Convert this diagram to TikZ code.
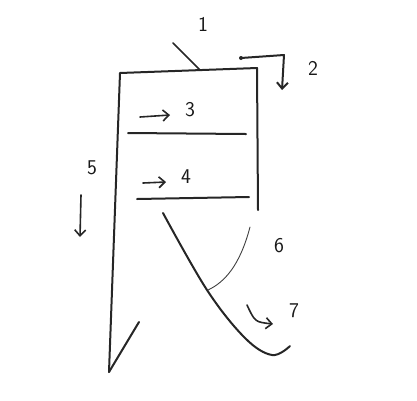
\documentclass[tikz,border=0pt]{standalone}
\usetikzlibrary{arrows.meta}
\tikzset{
  >={Straight Barb[length=6pt,width=11pt]},
  every picture/.style={line cap=round, line join=round},
  pen/.style={black!85, line width=2pt},
  thinpen/.style={black!85, line width=1.6pt},
  finepen/.style={black!75, line width=0.9pt},
  num/.style={font=\sffamily\fontsize{21}{22}\selectfont, text=black!90, inner sep=1pt},
}
\begin{document}
\begin{tikzpicture}[x=1pt, y=-1pt]
\useasboundingbox (0,0) rectangle (417,400);
% ------------------------------------------------------------- frame
\coordinate (tl) at (120,73);
\coordinate (tr) at (257,68);
\coordinate (br) at (258,210);
\coordinate (bl) at (109,372);
\coordinate (tip) at (139,322);
\draw[pen] (bl) -- (tl) -- (tr) -- (br);
\draw[pen] (bl) -- (tip);
\draw[pen] (128,133) -- (246,134);
\draw[pen] (137,199) -- (249,197);
% ------------------------------------------------------------- labels
\node[num] (n1) at (203,24) {1};
\coordinate (l1a) at (173,43);
\coordinate (l1b) at (200,70);
\draw[thinpen] (l1a) -- (l1b);

\coordinate (d2) at (241,58);
\fill[black!85] (d2) circle (2);
\draw[pen, ->] (d2) -- (284,55) -- (282,90);
\node[num] (n2) at (313,68) {2};

\node[num] (n3) at (190,110) {3};
\coordinate (a3) at (140,117);
\draw[thinpen, ->] (a3) -- (170,115);

\node[num] (n4) at (186,177) {4};
\coordinate (a4) at (143,183);
\draw[thinpen, ->] (a4) -- (166,182);

\node[num] (n5) at (92,168) {5};
\coordinate (a5) at (81,195);
\draw[thinpen, ->] (a5) -- (80,237);
% ------------------------------------------------------------- curves
\draw[pen] plot[smooth, tension=0.6] coordinates
  {(163,213) (207,290) (245,338) (272,355) (290,346)};
\draw[finepen] (250,227) .. controls (240,265) and (225,282) .. (208,290);
\node[num] (n6) at (279,246) {6};

\node[num] (n7) at (294,311) {7};
\coordinate (a7) at (247,305);
\draw[thinpen, ->] (a7) .. controls (255,322) .. (273,324);
\end{tikzpicture}
\end{document}
